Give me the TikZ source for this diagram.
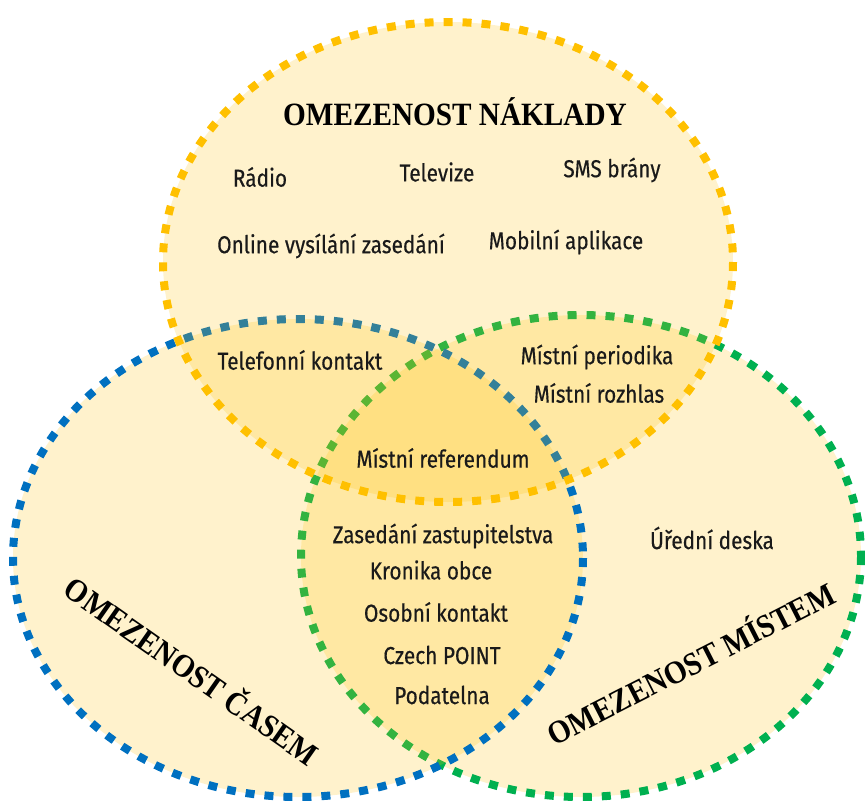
\documentclass[tikz,border=0pt]{standalone}
\usepackage{fontspec}
\setmainfont{Liberation Serif}
\newfontfamily\condsans[FakeStretch=0.85,FakeBold=0.4]{Fira Sans}
\newfontfamily\titleserif[FakeStretch=0.9]{Liberation Serif}
\definecolor{gold}{HTML}{FFC000}
\definecolor{setblue}{HTML}{0070C0}
\definecolor{setgreen}{HTML}{00B050}
\definecolor{ink}{HTML}{1A1A1A}
\begin{document}
\begin{tikzpicture}[x=1pt,y=-1pt,
  vset/.style={line width=8pt, dash pattern=on 9pt off 10pt, fill=gold, fill opacity=0.2},
  lbl/.style={font=\condsans\fontsize{24.5}{28}\selectfont, text=ink, inner sep=0pt},
  ttl/.style={font=\titleserif\bfseries\fontsize{32.5}{36}\selectfont, text=black, inner sep=0pt}]
\useasboundingbox (0,0) rectangle (865,803);
\draw[vset, draw=setgreen] (581,556) ellipse [x radius=280, y radius=241];
\draw[vset, draw=setblue] (298,558) ellipse [x radius=285, y radius=239];
\draw[vset, draw=gold] (448,262) ellipse [x radius=285, y radius=240];
\node[ttl] (naklady) at (455,112) {OMEZENOST NÁKLADY};
\node[ttl, rotate=-35] (casem) at (193,669) {OMEZENOST ČASEM};
\node[ttl, rotate=27] (mistem) at (690,662) {OMEZENOST MÍSTEM};
\node[lbl] (radio) at (260,177) {Rádio};
\node[lbl] (televize) at (437,172) {Televize};
\node[lbl] (sms) at (612,170) {SMS brány};
\node[lbl] (online) at (331,246) {Online vysílání zasedání};
\node[lbl] (mobil) at (566,242) {Mobilní aplikace};
\node[lbl] (telefon) at (300,360) {Telefonní kontakt};
\node[lbl] (periodika) at (597,357) {Místní periodika};
\node[lbl] (rozhlas) at (599,393) {Místní rozhlas};
\node[lbl] (referendum) at (443,458) {Místní referendum};
\node[lbl] (zasedani) at (443,536) {Zasedání zastupitelstva};
\node[lbl] (kronika) at (431,570) {Kronika obce};
\node[lbl] (osobni) at (436,612) {Osobní kontakt};
\node[lbl] (czech) at (442,655) {Czech POINT};
\node[lbl] (podatelna) at (442,695) {Podatelna};
\node[lbl] (deska) at (712,538) {Úřední deska};
\end{tikzpicture}
\end{document}
